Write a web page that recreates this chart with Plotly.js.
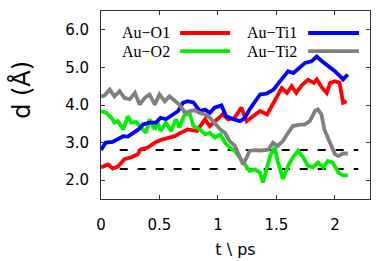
<!DOCTYPE html>
<html>
<head>
<meta charset="utf-8">
<script src="https://cdn.plot.ly/plotly-3.0.1.min.js"></script>
<style>html,body{margin:0;padding:0;background:#fff;}#chart{width:382px;height:261px;}</style>
</head>
<body>
<div id="chart"></div>
<script>
// Series names
const seriesNames = ["Au\u2212O1", "Au\u2212O2", "Au\u2212Ti1", "Au\u2212Ti2"];
const seriesColors = ["#ff0000", "#00f000", "#0000ff", "#808080"];

// Au-O1 (red)
const tO1 = [0, 0.06, 0.10, 0.145, 0.20, 0.26, 0.315, 0.34, 0.40, 0.46, 0.51, 0.57, 0.63, 0.68, 0.74, 0.82, 0.89, 0.93, 0.99, 1.04, 1.085, 1.14, 1.20, 1.245, 1.30, 1.36, 1.42, 1.46, 1.50, 1.545, 1.59, 1.63, 1.67, 1.72, 1.77, 1.82, 1.845, 1.89, 1.93, 1.96, 2.0, 2.04, 2.07, 2.10];
const dO1 = [2.34, 2.42, 2.31, 2.36, 2.56, 2.61, 2.69, 2.82, 2.87, 3.0, 3.07, 3.13, 3.17, 3.26, 3.35, 3.31, 3.62, 3.44, 3.62, 3.75, 3.62, 3.65, 3.93, 3.57, 3.70, 3.84, 3.75, 3.97, 4.19, 4.45, 4.32, 4.50, 4.32, 4.54, 4.67, 4.59, 4.68, 4.46, 4.32, 4.59, 4.63, 4.59, 4.06, 4.10];

// Au-O2 (green)
const tO2 = [0, 0.045, 0.09, 0.115, 0.145, 0.19, 0.23, 0.26, 0.30, 0.34, 0.385, 0.415, 0.46, 0.485, 0.51, 0.555, 0.60, 0.64, 0.67, 0.715, 0.76, 0.79, 0.845, 0.89, 0.93, 0.975, 1.02, 1.06, 1.10, 1.145, 1.19, 1.23, 1.27, 1.315, 1.36, 1.385, 1.42, 1.445, 1.485, 1.51, 1.555, 1.60, 1.64, 1.685, 1.73, 1.77, 1.81, 1.855, 1.90, 1.94, 1.98, 2.03, 2.07, 2.11];
const dO2 = [3.84, 3.79, 3.66, 3.53, 3.57, 3.35, 3.70, 3.53, 3.55, 3.40, 3.26, 3.62, 3.35, 3.53, 3.31, 3.53, 3.31, 3.62, 3.40, 3.75, 3.75, 3.44, 3.35, 3.22, 3.26, 3.13, 3.22, 3.0, 2.87, 2.78, 2.60, 2.42, 2.25, 2.29, 2.20, 1.94, 2.34, 2.64, 2.87, 2.51, 2.03, 2.38, 2.60, 2.78, 2.60, 2.38, 2.34, 2.47, 2.34, 2.51, 2.47, 2.20, 2.13, 2.13];

// Au-Ti1 (blue)
const tTi1 = [0, 0.04, 0.10, 0.145, 0.19, 0.23, 0.275, 0.32, 0.36, 0.415, 0.47, 0.51, 0.555, 0.60, 0.66, 0.70, 0.74, 0.79, 0.845, 0.89, 0.93, 0.97, 1.03, 1.07, 1.13, 1.19, 1.23, 1.27, 1.315, 1.36, 1.415, 1.475, 1.52, 1.56, 1.60, 1.645, 1.70, 1.745, 1.80, 1.845, 1.89, 1.945, 2.0, 2.045, 2.07, 2.11];
const dTi1 = [2.80, 3.0, 3.02, 3.09, 3.17, 3.16, 3.26, 3.35, 3.48, 3.53, 3.53, 3.66, 3.62, 3.72, 3.84, 4.06, 4.10, 4.07, 3.84, 3.88, 3.79, 3.93, 3.99, 3.70, 3.62, 3.57, 3.66, 3.88, 4.06, 4.28, 4.30, 4.41, 4.59, 4.76, 4.90, 4.85, 4.99, 5.12, 5.16, 5.29, 5.16, 5.03, 4.90, 4.76, 4.68, 4.81];

// Au-Ti2 (grey)
const tTi2 = [0, 0.03, 0.075, 0.115, 0.16, 0.20, 0.245, 0.29, 0.33, 0.375, 0.415, 0.46, 0.50, 0.545, 0.585, 0.63, 0.67, 0.72, 0.76, 0.80, 0.845, 0.89, 0.93, 0.97, 1.02, 1.06, 1.10, 1.145, 1.19, 1.215, 1.245, 1.27, 1.315, 1.37, 1.43, 1.47, 1.51, 1.555, 1.60, 1.64, 1.70, 1.74, 1.785, 1.83, 1.855, 1.885, 1.91, 1.955, 2.0, 2.03, 2.07, 2.11];
const dTi2 = [4.23, 4.25, 4.41, 4.23, 4.37, 4.19, 4.15, 4.32, 4.01, 4.19, 4.28, 4.01, 4.28, 4.10, 4.23, 4.10, 4.01, 3.79, 3.84, 3.86, 3.79, 3.75, 3.66, 3.53, 3.35, 3.26, 3.04, 2.91, 2.56, 2.42, 2.60, 2.78, 2.80, 2.79, 2.81, 3.0, 2.91, 3.04, 3.26, 3.44, 3.48, 3.48, 3.57, 3.84, 3.88, 3.75, 3.35, 3.04, 2.69, 2.64, 2.71, 2.71];

// Dashed reference levels
const refLevels = [2.8, 2.3];
const refSpan = [0.16, 2.2];

// Axis ticks
const xTickVals = [0, 0.5, 1, 1.5, 2];
const xTickText = ["0", "0.5", "1", "1.5", "2"];
const yTickVals = [2, 3, 4, 5, 6];
const yTickText = ["2.0", "3.0", "4.0", "5.0", "6.0"];

const xs = [tO1, tO2, tTi1, tTi2];
const ys = [dO1, dO2, dTi1, dTi2];

const traces = [];
refLevels.forEach(function (lv) {
  traces.push({
    x: refSpan, y: refSpan.map(function () { return lv; }),
    mode: "lines", type: "scatter", showlegend: false, hoverinfo: "skip",
    line: {color: "#000000", width: 2, dash: "8px,10px"}
  });
});
[0, 1, 2, 3].forEach(function (i) {
  traces.push({
    x: xs[i], y: ys[i], name: seriesNames[i], mode: "lines", type: "scatter",
    showlegend: false,
    line: {color: seriesColors[i], width: 3.8, shape: "linear"}
  });
});

// Legend layout (text left of sample line, two columns)
const legTextX = [0.071, 0.071, 0.535, 0.535];
const legRowY = [0.883, 0.787, 0.883, 0.787];
const legLineX0 = [0.294, 0.294, 0.770, 0.770];
const legLineX1 = [0.480, 0.480, 0.959, 0.959];
const annotations = [];
const shapes = [];
[0, 1, 2, 3].forEach(function (i) {
  annotations.push({
    xref: "paper", yref: "paper", x: legTextX[i], y: legRowY[i],
    xanchor: "left", yanchor: "middle", showarrow: false,
    text: seriesNames[i],
    font: {family: "Liberation Serif, Times New Roman, serif", size: 16, color: "#000"}
  });
  shapes.push({
    type: "line", xref: "paper", yref: "paper",
    x0: legLineX0[i], x1: legLineX1[i], y0: legRowY[i], y1: legRowY[i],
    line: {color: seriesColors[i], width: 3.8}
  });
});
annotations.push({
  xref: "paper", yref: "paper", x: -0.294, y: 0.58,
  xanchor: "center", yanchor: "middle", showarrow: false, textangle: -90,
  text: "d (\u00c5)",
  font: {family: "DejaVu Sans, sans-serif", size: 24, color: "#000"}
});

const axisCommon = {
  showgrid: false, zeroline: false, showline: true, mirror: "ticks",
  linecolor: "#333", linewidth: 1, ticks: "inside", ticklen: 4,
  tickcolor: "#333", tickwidth: 1,
  tickfont: {family: "DejaVu Sans, sans-serif", size: 15, color: "#000"}
};

const layout = {
  width: 382, height: 261,
  margin: {l: 101, r: 12, t: 11, b: 62},
  paper_bgcolor: "#fff", plot_bgcolor: "#fff",
  showlegend: false,
  xaxis: Object.assign({}, axisCommon, {
    range: [0, 2.3], tickmode: "array", tickvals: xTickVals, ticktext: xTickText,
    ticklabelstandoff: 12,
    title: {text: "t \\ ps", standoff: 10, font: {family: "DejaVu Sans, sans-serif", size: 16, color: "#000"}}
  }),
  yaxis: Object.assign({}, axisCommon, {
    range: [1.5, 6.5], tickmode: "array", tickvals: yTickVals, ticktext: yTickText,
    ticklabelstandoff: 8
  }),
  annotations: annotations,
  shapes: shapes
};

Plotly.newPlot("chart", traces, layout, {staticPlot: true, displayModeBar: false});
</script>
</body>
</html>
